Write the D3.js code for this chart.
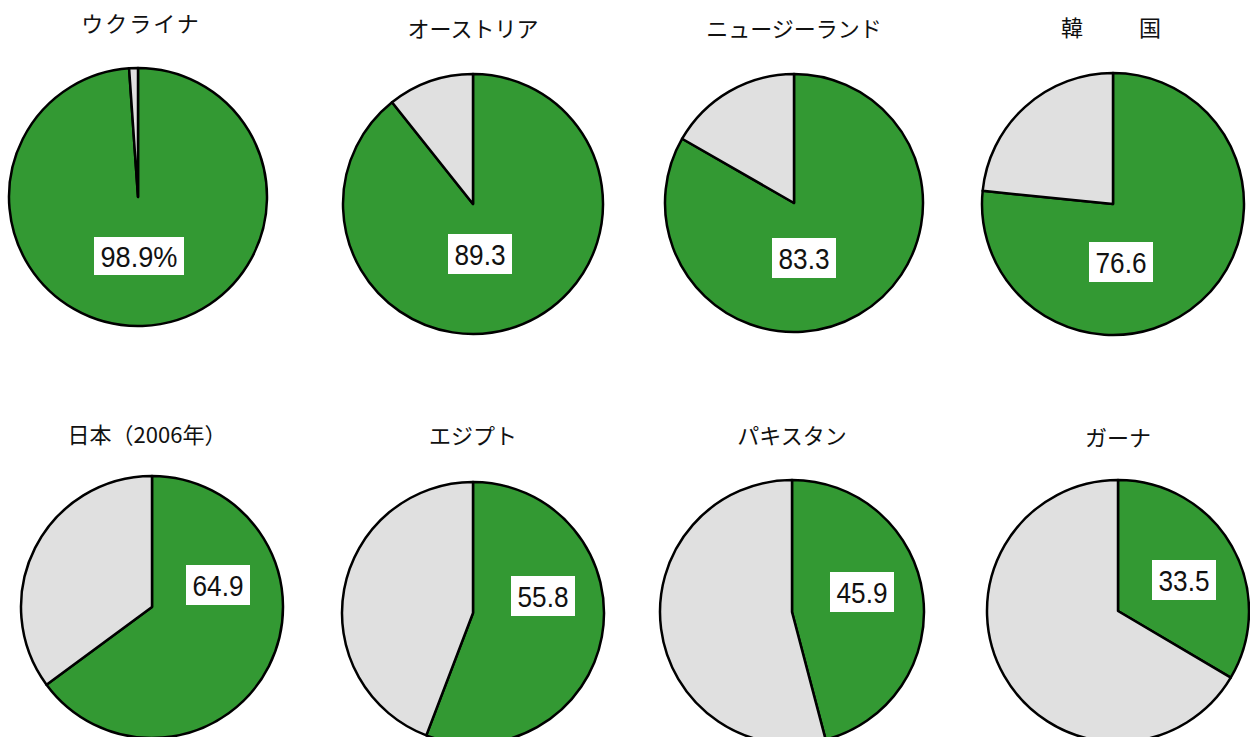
<!DOCTYPE html>
<html>
<head>
<meta charset="utf-8">
<script src="https://cdn.jsdelivr.net/npm/d3@7"></script>
<style>
  body { margin: 0; background: #fff; }
  svg { display: block; }
</style>
</head>
<body>
<svg id="graph" width="1250" height="737"></svg>
<script>
// data
var countries = ["ウクライナ", "オーストリア", "ニュージーランド", "韓　　国",
                 "日本（2006年）", "エジプト", "パキスタン", "ガーナ"];
var shares = [98.9, 89.3, 83.3, 76.6, 64.9, 55.8, 45.9, 33.5];
var labels = ["98.9%", "89.3", "83.3", "76.6", "64.9", "55.8", "45.9", "33.5"];

// layout (centers, radii, label offsets)
var centers = [[138,197],[473,204],[794,203],[1113,204],
               [152,607],[473,613],[792,612],[1118,611]];
var radii = [129,130,129,131,131,131,132,131];
var labelOffsets = [[1,59],[7,50],[10,55],[8,58],[66,-22],[70,-17],[70,-20],[66,-31]];
var titleY = [24,29,29,28,435,436,436,438];

var green = "#339933",
    grey = "#e0e0e0";

var svg = d3.select("#graph");

var pie = d3.pie().sort(null).value(function(d){ return d; });

countries.forEach(function(name, i) {
	var cx = centers[i][0], cy = centers[i][1];
	var g = svg.append("g")
	           .attr("transform", "translate(" + cx + "," + cy + ")");

	var arc = d3.arc().innerRadius(0).outerRadius(radii[i]);

	g.selectAll("path")
	 .data(pie([shares[i], 100 - shares[i]]))
	 .enter().append("path")
	 .attr("d", arc)
	 .attr("fill", function(d, k){ return k == 0 ? green : grey; })
	 .attr("stroke", "#000")
	 .attr("stroke-width", 2.5)
	 .attr("stroke-linejoin", "round");

	// value label with white box
	var lx = labelOffsets[i][0], ly = labelOffsets[i][1];
	var pct = labels[i].indexOf("%") >= 0;
	var bw = pct ? 90 : 64, bh = pct ? 38 : 40;
	g.append("rect")
	 .attr("x", lx - bw/2)
	 .attr("y", ly - bh/2)
	 .attr("width", bw)
	 .attr("height", bh)
	 .attr("fill", "#fff");
	g.append("text")
	 .attr("x", lx)
	 .attr("y", ly + 10.5)
	 .attr("text-anchor", "middle")
	 .attr("font-family", "'Liberation Sans', Arial, sans-serif")
	 .attr("font-size", "29px")
	 .attr("textLength", pct ? 77 : 51)
	 .attr("lengthAdjust", "spacingAndGlyphs")
	 .attr("fill", "#111")
	 .text(labels[i]);

	// title
	svg.append("text")
	   .attr("x", cx + (i == 4 ? -5 : 0) + (i == 0 ? 3 : 0))
	   .attr("y", titleY[i] + 8)
	   .attr("text-anchor", "middle")
	   .attr("font-family", "'Noto Sans CJK JP', sans-serif")
	   .attr("font-size", "22px")
	   .attr("letter-spacing", i == 3 ? "4px" : (i == 0 ? "2px" : "0px"))
	   .attr("fill", "#111")
	   .text(name);
});
</script>
</body>
</html>
